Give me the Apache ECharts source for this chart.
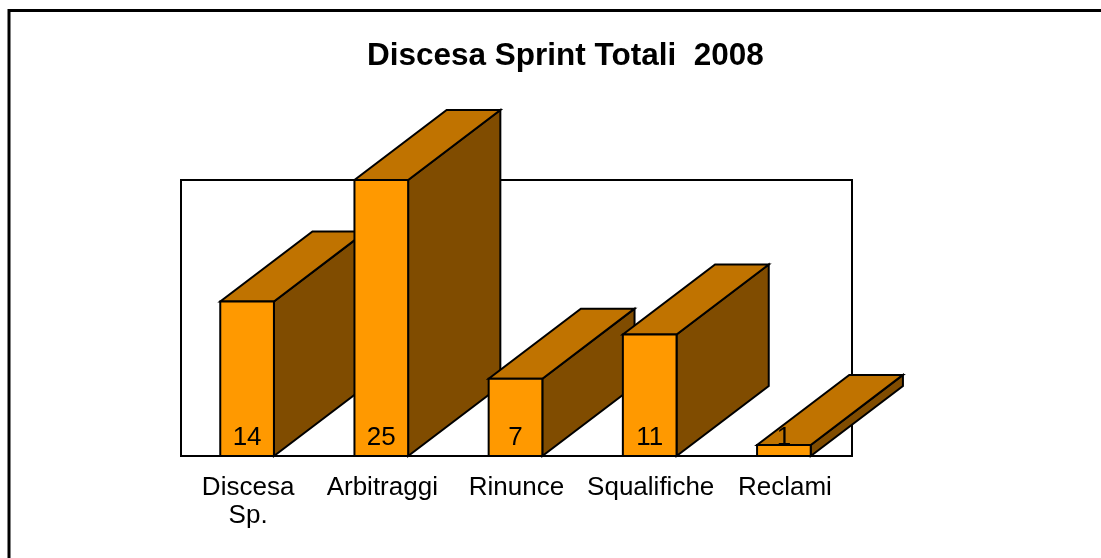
<!DOCTYPE html>
<html>
<head>
<meta charset="utf-8">
<script src="https://cdn.jsdelivr.net/npm/echarts@6/dist/echarts.min.js"></script>
<style>
  html, body { margin: 0; padding: 0; background: #fff; }
  #main { width: 1101px; height: 558px; }
</style>
</head>
<body>
<div id="main"></div>
<script>
var categories = ['Discesa\nSp.', 'Arbitraggi', 'Rinunce', 'Squalifiche', 'Reclami'];
var values = [14, 25, 7, 11, 1];
var titleText = 'Discesa Sprint Totali  2008';

var FONT = '"Liberation Sans", Arial, sans-serif';
var chart = echarts.init(document.getElementById('main'));

// 3D bar: front, top and side faces
function renderItem(params, api) {
    var v = api.value(1);
    var top = api.coord([api.value(0), v]);
    var base = api.coord([api.value(0), 0]);
    var band = api.size([1, 0])[0];
    var w = band * 0.4;
    var dx = band * 0.687, dy = -band * 0.522;
    var x0 = top[0] - w / 2 - 1, x1 = x0 + w;
    var yt = top[1], yb = base[1];
    var stroke = { stroke: '#000', lineWidth: 2, lineJoin: 'miter' };
    return {
        type: 'group',
        children: [{
            type: 'polygon',
            shape: { points: [[x1, yt], [x1 + dx, yt + dy], [x1 + dx, yb + dy], [x1, yb]] },
            style: Object.assign({ fill: '#804C00' }, stroke)
        }, {
            type: 'polygon',
            shape: { points: [[x0, yt], [x1, yt], [x1 + dx, yt + dy], [x0 + dx, yt + dy]] },
            style: Object.assign({ fill: '#C07300' }, stroke)
        }, {
            type: 'rect',
            shape: { x: x0, y: yt, width: w, height: yb - yt },
            style: Object.assign({ fill: '#FF9900' }, stroke)
        }, {
            type: 'text',
            style: {
                text: String(v), x: (x0 + x1) / 2, y: yb - 18,
                textAlign: 'center', textVerticalAlign: 'middle',
                font: '26px ' + FONT, fill: '#000'
            }
        }]
    };
}

var option = {
    backgroundColor: '#fff',
    animation: false,
    title: {
        text: titleText,
        left: 362,
        top: 35,
        textStyle: { fontFamily: FONT, fontSize: 31.5, fontWeight: 'bold', color: '#000' }
    },
    grid: {
        left: 181, right: 249, top: 180, bottom: 102,
        show: true, borderColor: '#000', borderWidth: 2, backgroundColor: 'transparent'
    },
    xAxis: {
        type: 'category',
        data: categories,
        axisLine: { show: false },
        axisTick: { show: false },
        axisLabel: { color: '#000', fontFamily: FONT, fontSize: 26, lineHeight: 28, margin: 18, interval: 0 }
    },
    yAxis: {
        type: 'value', min: 0, max: 25,
        show: false
    },
    series: [{
        type: 'custom',
        renderItem: renderItem,
        clip: false,
        data: values.map(function (v, i) { return [i, v]; })
    }],
    graphic: [{
        type: 'polyline',
        shape: { points: [[9, 558], [9, 10.5], [1101, 10.5]] },
        style: { stroke: '#000', lineWidth: 3, fill: null }
    }]
};
chart.setOption(option);
</script>
</body>
</html>
